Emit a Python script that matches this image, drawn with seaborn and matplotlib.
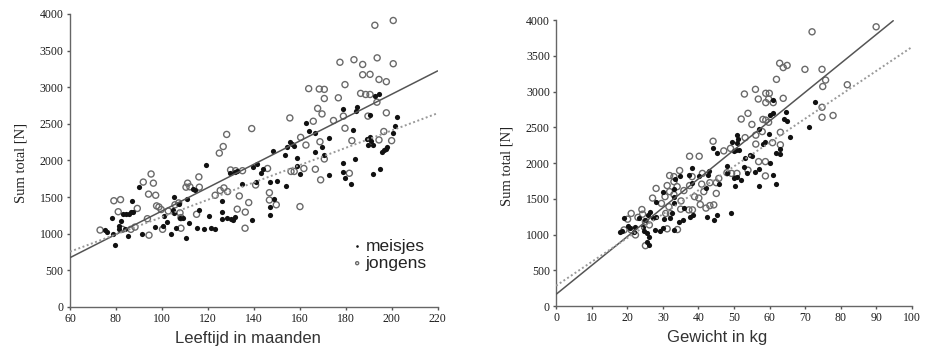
import matplotlib
matplotlib.use("Agg")
import matplotlib.pyplot as plt
import seaborn as sns
import numpy as np

# ---- data ----
# left panel: age in months vs. total force
age_girls = [75.2, 76.2, 78.4, 78.9, 79.4, 81.3, 81.5, 82.0, 82.9, 83.9, 84.4, 85.2, 85.7, 86.4, 87.0, 87.4,
             90.2, 91.3, 97.1, 100.3, 100.8, 102.1, 104.1, 105.1, 105.0, 105.2, 106.1, 107.3, 107.9, 109.3,
             110.3, 111.1, 111.9, 113.4, 114.4, 115.1, 116.1, 118.3, 119.2, 120.3, 121.2, 123.1, 126.0, 126.0,
             126.3, 128.2, 129.6, 129.9, 130.8, 131.8, 131.7, 132.8, 135.0, 139.1, 139.8, 141.2, 141.1, 143.0,
             144.1, 146.9, 147.0, 147.0, 148.5, 148.8, 149.9, 153.5, 154.0, 154.6, 155.7, 156.5, 157.6, 158.8,
             158.8, 160.1, 162.7, 164.1, 166.8, 166.8, 169.7, 170.6, 172.9, 172.9, 179.0, 179.0, 179.0, 179.9,
             182.1, 183.1, 184.0, 184.3, 185.0, 189.1, 189.8, 190.8, 190.8, 191.2, 191.8, 191.8, 192.9, 194.7,
             195.0, 195.7, 196.6, 197.4, 198.1, 200.7, 201.4, 202.5]
force_girls_age = [1050, 1030, 1220, 990, 850, 1060, 1100, 1170, 1270, 1060, 1270, 970, 1270, 1290, 1445, 1290,
                   1640, 995, 1095, 1100, 1240, 1160, 1000, 1495, 1320, 1280, 1080, 1410, 1220, 1220,
                   945, 1480, 1140, 1610, 1590, 1080, 1330, 1060, 1940, 1240, 1080, 1060, 1440, 1295,
                   1195, 1210, 1830, 1195, 1185, 1840, 1230, 1860, 1680, 1185, 1910, 1955, 1710, 1830,
                   1880, 1705, 1370, 1250, 2135, 1480, 1720, 2070, 1650, 2180, 2250, 2220, 2195, 1925,
                   2030, 1820, 2515, 2400, 2370, 2120, 2185, 2070, 2305, 1800, 2705, 1960, 1840, 1765,
                   1680, 2415, 2020, 2680, 2730, 2295, 2210, 2625, 2325, 2265, 2210, 1810, 2875, 2900,
                   1885, 2120, 2140, 2160, 2180, 2375, 2470, 2590]

age_boys = [73.1, 79.1, 82.0, 81.0, 82.8, 86.5, 88.3, 89.3, 91.9, 94.2, 95.3, 96.3, 97.3, 94.4, 93.7, 97.7,
            98.7, 99.7, 100.3, 102.8, 105.7, 107.3, 107.9, 108.3, 108.3, 110.5, 111.2, 112.2, 116.1, 116.3,
            115.1, 123.2, 125.0, 125.4, 126.7, 127.0, 128.2, 128.6, 129.9, 132.1, 132.8, 133.7, 135.1, 136.2,
            136.3, 137.8, 139.1, 140.8, 146.0, 146.8, 146.8, 149.8, 155.7, 156.2, 157.6, 160.1, 160.4, 161.8,
            162.7, 163.9, 165.9, 166.8, 167.8, 168.5, 168.8, 169.1, 169.7, 170.7, 170.7, 170.7, 174.7, 176.8,
            177.5, 179.0, 179.7, 179.7, 181.6, 182.7, 183.6, 186.5, 187.4, 187.4, 188.7, 190.6, 190.6, 189.7,
            192.7, 193.6, 193.7, 194.5, 194.5, 196.6, 197.7, 197.7, 200.0, 200.7, 200.7]
force_boys_age = [1050, 1450, 1465, 1300, 1060, 1060, 1090, 1345, 1705, 1540, 1815, 1690, 1525, 980, 1205, 1380,
                  1365, 1330, 1060, 1310, 1395, 1420, 1285, 1220, 1075, 1635, 1690, 1640, 1775, 1635,
                  1265, 1525, 2100, 1590, 2190, 1625, 2355, 1575, 1870, 1860, 1335, 1515, 1860, 1075,
                  1295, 1425, 2435, 1665, 1890, 1560, 1460, 1395, 2580, 1850, 1850, 1370, 2315, 1890,
                  2210, 2980, 2535, 1880, 2710, 2975, 2255, 1735, 2635, 2970, 2845, 2020, 2545, 2855,
                  3340, 2605, 2440, 3035, 1825, 2270, 3375, 2915, 3310, 3170, 2900, 3175, 2900, 2605,
                  3845, 2795, 3400, 3105, 2280, 2395, 3075, 2650, 2270, 3910, 3320]

# right panel: body weight in kg vs. total force
weight_girls = [72.8, 71.0, 65.8, 64.6, 63.9, 64.9, 61.0, 60.2, 60.8, 59.8, 60.2, 61.0, 61.9, 61.9, 62.8, 63.0,
                58.6, 58.1, 57.1, 56.9, 56.0, 57.0, 55.0, 54.5, 53.1, 52.9, 53.7, 52.0, 50.8, 51.1, 50.8,
                51.4, 50.4, 49.9, 50.8, 49.9, 50.2, 49.3, 48.0, 48.0, 49.2, 45.8, 45.2, 44.1, 43.0, 42.6,
                42.1, 42.3, 44.3, 45.2, 40.1, 38.3, 38.1, 37.3, 38.5, 37.7, 35.9, 35.6, 34.6, 34.9, 33.2,
                33.3, 33.0, 33.0, 32.5, 32.1, 30.1, 30.2, 30.1, 28.0, 28.0, 27.2, 27.7, 29.1, 33.1, 26.5,
                25.7, 25.1, 24.6, 25.6, 26.1, 26.2, 25.4, 24.3, 23.2, 22.3, 21.8, 20.9, 19.2, 18.5, 17.9, 20.2]
force_girls_weight = [2860, 2510, 2370, 2720, 2620, 2590, 2880, 2670, 2695, 2405, 2005, 1830, 1705, 2145, 2125, 2190,
                      2290, 2260, 2470, 1910, 1880, 1685, 2100, 2110, 2065, 1950, 1855, 1760, 2390, 2330, 2275,
                      2180, 2180, 2170, 1810, 1785, 1685, 2300, 1965, 1855, 1295, 1705, 2135, 2205, 1895, 1830,
                      1645, 1240, 1205, 1275, 1820, 1715, 1925, 1830, 1275, 1250, 1375, 1205, 1180, 1820, 1640,
                      1770, 1520, 1435, 1295, 1225, 1600, 1215, 1085, 1450, 1250, 1225, 1065, 1055, 1070, 1320,
                      1275, 1210, 1055, 1015, 960, 855, 900, 1110, 1225, 1110, 1040, 1085, 1225, 1055, 1040, 1125]

weight_boys = [89.9, 71.9, 62.8, 63.8, 64.9, 61.9, 69.9, 74.7, 75.7, 74.9, 81.8, 63.8, 56.0, 52.9, 56.8, 58.9,
               59.9, 59.7, 61.0, 58.9, 53.9, 52.0, 58.1, 58.9, 59.7, 55.0, 74.7, 74.7, 77.8, 63.0, 57.9,
               56.1, 53.1, 60.8, 63.0, 56.1, 44.1, 47.1, 49.0, 37.5, 40.2, 56.9, 58.8, 53.9, 58.8, 48.0,
               49.3, 50.8, 45.7, 45.0, 45.0, 34.7, 31.9, 33.1, 33.1, 28.1, 31.2, 33.1, 31.9, 30.6, 27.1,
               34.0, 35.9, 37.5, 38.2, 41.1, 40.9, 43.2, 41.5, 40.1, 38.9, 37.3, 38.3, 35.1, 35.0, 40.5,
               42.1, 43.2, 44.3, 31.7, 30.8, 32.1, 34.1, 31.2, 29.6, 24.3, 23.0, 21.1, 24.1, 20.1, 21.1,
               19.1, 22.3, 25.1, 26.2, 25.1]
force_boys_weight = [3905, 3835, 3395, 3335, 3365, 3170, 3310, 3310, 3160, 3070, 3095, 2905, 3030, 2965, 2895, 2975,
                     2975, 2895, 2845, 2845, 2695, 2615, 2610, 2600, 2570, 2540, 2780, 2640, 2665, 2430, 2440,
                     2390, 2355, 2285, 2255, 2265, 2305, 2170, 2205, 2095, 2095, 2020, 2020, 1900, 1820, 1865,
                     1855, 1855, 1785, 1725, 1575, 1895, 1825, 1740, 1810, 1645, 1685, 1560, 1600, 1530, 1510,
                     1670, 1615, 1685, 1810, 1855, 1705, 1725, 1600, 1510, 1530, 1345, 1345, 1470, 1355, 1420,
                     1370, 1405, 1415, 1390, 1295, 1295, 1070, 1080, 1435, 1285, 1240, 1295, 1350, 1215, 1065,
                     1065, 995, 845, 1135, 1180]

# regression lines (intercept, slope) and x-range they are drawn over
age_fit_boys = (-283, 15.93)
age_fit_girls = (46, 11.81)
age_fit_range_boys = [60, 220]
age_fit_range_girls = [60, 220]
weight_fit_boys = (164, 40.4)
weight_fit_girls = (284, 33.4)
weight_fit_range_boys = [0, 94.7]
weight_fit_range_girls = [0, 100]

# ---- drawing ----
sns.set_style("ticks")
plt.rcParams["font.family"] = ["Liberation Serif", "DejaVu Serif"]

fig = plt.figure(figsize=(9.33, 3.51), dpi=100)
ax1 = fig.add_axes([0.075, 0.1254, 0.394, 0.835])
ax2 = fig.add_axes([0.596, 0.128, 0.3816, 0.815])

girl_kw = dict(marker="o", s=14, color="#111111", linewidth=0)
boy_kw = dict(marker="o", s=19, facecolor="none", edgecolor="#6a6a6a", linewidth=1.0)


def draw_fits(ax, fit_b, rng_b, fit_g, rng_g):
    xb = np.array(rng_b, dtype=float)
    xg = np.array(rng_g, dtype=float)
    ax.plot(xb, fit_b[0] + fit_b[1] * xb, color="#555555", lw=1.1, zorder=3)
    ax.plot(xg, fit_g[0] + fit_g[1] * xg, color="#999999", lw=1.4, ls=(0, (1, 1.3)), zorder=3)


def style_axes(ax, xlim, xticks, xlabel, label_x, ylabel_x):
    ax.set_xlim(*xlim)
    ax.set_ylim(0, 4000)
    ax.set_xticks(xticks)
    ax.set_yticks(range(0, 4001, 500))
    sns.despine(ax=ax)
    for s in ("left", "bottom"):
        ax.spines[s].set_color("#666666")
        ax.spines[s].set_linewidth(1.0)
    ax.tick_params(axis="both", length=2.5, width=1, color="#555555", pad=2,
                   labelsize=8.5, labelcolor="#1e1e1e")
    ax.set_xlabel(xlabel, family=["Liberation Sans", "DejaVu Sans"], fontsize=12, color="#333333")
    ax.xaxis.set_label_coords(label_x, -0.082)
    ax.set_ylabel("Sum total [N]", fontsize=10.5, color="#222222")
    ax.yaxis.set_label_coords(ylabel_x, 0.49)


# left panel
sns.scatterplot(x=age_boys, y=force_boys_age, ax=ax1, label="jongens", zorder=2, **boy_kw)
sns.scatterplot(x=age_girls, y=force_girls_age, ax=ax1, label="meisjes", zorder=2, **girl_kw)
draw_fits(ax1, age_fit_boys, age_fit_range_boys, age_fit_girls, age_fit_range_girls)
style_axes(ax1, (60, 220), range(60, 221, 20), "Leeftijd in maanden", 0.484, -0.115)

h, l = ax1.get_legend_handles_labels()
leg = ax1.legend(h[::-1], l[::-1], loc="lower right", bbox_to_anchor=(0.99, 0.1), frameon=False,
                 markerscale=0.5, handletextpad=0.1, handlelength=0.8, labelspacing=0.1,
                 borderaxespad=0, prop={"family": ["Liberation Sans", "DejaVu Sans"], "size": 12.5})
for t in leg.get_texts():
    t.set_color("#222222")

# right panel
sns.scatterplot(x=weight_boys, y=force_boys_weight, ax=ax2, zorder=2, **boy_kw)
sns.scatterplot(x=weight_girls, y=force_girls_weight, ax=ax2, zorder=2, **girl_kw)
draw_fits(ax2, weight_fit_boys, weight_fit_range_boys, weight_fit_girls, weight_fit_range_girls)
style_axes(ax2, (0, 100), range(0, 101, 10), "Gewicht in kg", 0.451, -0.12)

fig.savefig("out.png", dpi=100)
